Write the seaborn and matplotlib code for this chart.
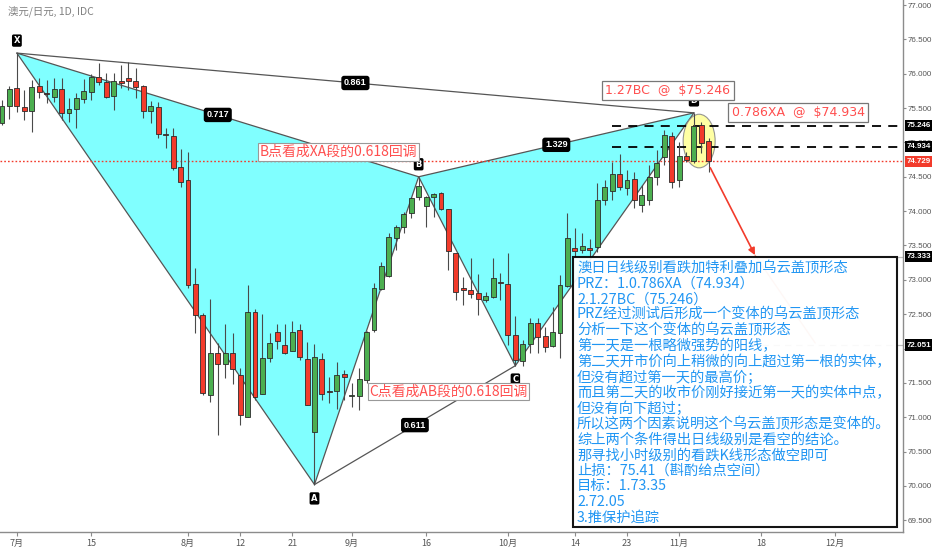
import numpy as np
import pandas as pd
import seaborn as sns
import matplotlib.pyplot as plt
from matplotlib.patches import Polygon, Ellipse, Rectangle

# daily OHLC, AUD/JPY, from 2019-06-27
opens = [75.28, 75.53, 75.79, 75.52, 75.46, 75.82, 75.72, 75.66, 75.78, 75.43,
         75.49, 75.63, 75.73, 75.95, 75.88, 75.68, 75.89, 75.94, 75.89, 75.82,
         75.46, 75.52, 75.12, 75.09, 74.64, 74.45, 72.94, 72.49, 71.32, 71.93,
         71.77, 71.93, 71.61, 71.00, 72.53, 71.34, 71.86, 72.24, 72.05, 71.96,
         72.27, 71.85, 70.79, 71.84, 71.38, 71.38, 71.63, 71.31, 71.31, 71.54,
         72.27, 72.87, 73.06, 73.61, 73.77, 73.97, 74.21, 74.07, 74.21, 74.26,
         74.03, 73.39, 72.88, 72.85, 72.81, 72.71, 72.75, 72.96, 72.94, 72.20,
         71.82, 72.07, 72.37, 72.18, 72.04, 72.23, 72.91, 73.46, 73.43, 73.47,
         73.48, 74.16, 74.29, 74.54, 74.34, 74.47, 74.09, 74.16, 74.50, 74.79,
         75.09, 74.45, 74.80, 74.73, 75.25, 75.02]
highs = [75.62, 75.82, 76.30, 75.76, 75.91, 75.94, 75.91, 75.94, 75.94, 75.65,
         75.72, 75.93, 76.00, 76.16, 76.01, 76.01, 76.13, 76.17, 76.08, 75.84,
         75.60, 75.59, 75.21, 75.21, 74.90, 74.86, 73.17, 72.52, 72.72, 72.08,
         72.36, 72.23, 71.72, 72.92, 72.57, 72.50, 72.23, 72.36, 72.36, 72.40,
         72.36, 72.09, 72.07, 71.94, 71.58, 71.80, 71.69, 71.50, 71.72, 72.26,
         72.95, 73.26, 73.68, 73.80, 73.99, 74.21, 74.50, 74.22, 74.26, 74.28,
         74.03, 73.39, 73.04, 73.32, 73.08, 72.82, 73.32, 73.10, 73.39, 72.47,
         72.12, 72.44, 72.44, 72.31, 72.60, 73.07, 73.97, 73.75, 73.68, 73.60,
         74.41, 74.45, 74.71, 74.83, 74.60, 74.57, 74.38, 74.67, 74.89, 75.18,
         75.15, 75.01, 74.86, 75.43, 75.30, 75.06]
lows = [75.25, 75.34, 75.44, 75.33, 75.15, 75.65, 75.57, 75.59, 75.33, 75.30,
        75.21, 75.57, 75.62, 75.84, 75.65, 75.47, 75.79, 75.76, 75.65, 75.36,
        75.28, 75.06, 74.92, 74.60, 74.35, 72.88, 72.23, 71.33, 71.22, 70.74,
        71.57, 71.48, 70.89, 71.00, 71.25, 71.34, 71.80, 72.00, 71.92, 71.96,
        71.83, 71.18, 70.02, 71.25, 71.20, 71.12, 71.25, 71.15, 71.10, 71.50,
        72.24, 72.85, 73.04, 73.43, 73.68, 73.90, 74.16, 73.77, 73.91, 74.02,
        73.14, 72.71, 72.63, 72.74, 72.49, 72.68, 72.74, 72.71, 72.05, 71.75,
        71.74, 71.94, 71.94, 71.95, 72.02, 71.86, 72.90, 73.33, 73.39, 73.30,
        73.40, 74.09, 74.16, 74.31, 74.23, 74.05, 73.99, 74.09, 74.38, 74.67,
        74.34, 74.35, 74.71, 74.70, 74.85, 74.57]
closes = [75.53, 75.78, 75.53, 75.46, 75.81, 75.73, 75.71, 75.78, 75.43, 75.49,
          75.65, 75.75, 75.95, 75.88, 75.66, 75.89, 75.86, 75.89, 75.81, 75.46,
          75.53, 75.12, 75.11, 74.63, 74.42, 72.92, 72.49, 71.35, 71.93, 71.77,
          71.94, 71.70, 71.03, 72.53, 71.29, 71.86, 72.08, 72.11, 71.93, 72.24,
          71.88, 71.18, 71.88, 71.34, 71.37, 71.61, 71.59, 71.32, 71.56, 72.24,
          72.88, 73.20, 73.62, 73.77, 73.96, 74.19, 74.37, 74.21, 74.25, 74.03,
          73.42, 72.82, 72.85, 72.79, 72.72, 72.76, 73.03, 72.95, 72.20, 71.83,
          72.07, 72.37, 72.17, 72.02, 72.24, 72.92, 73.61, 73.42, 73.49, 73.44,
          74.16, 74.35, 74.54, 74.35, 74.45, 74.16, 74.23, 74.50, 74.70, 75.11,
          74.42, 74.80, 74.74, 75.24, 74.99, 74.729]

tick_dates = ["2019-07-01", "2019-07-15", "2019-08-01", "2019-08-12", "2019-08-21",
              "2019-09-02", "2019-09-16", "2019-10-01", "2019-10-14", "2019-10-23",
              "2019-11-01", "2019-11-18", "2019-12-02"]
tick_labels = ["7月", "15", "8月", "12", "21", "9月", "16", "10月", "14", "23",
               "11月", "18", "12月"]

# harmonic pattern X A B C D (bar index, high/low)
pattern_names = ["X", "A", "B", "C", "D"]
pattern_bars = [2, 42, 56, 69, 93]
pattern_is_high = [True, False, True, False, True]
ratio_labels = ["0.717", "0.611", "1.329", "0.861"]  # XB, AC, BD, XD

prz_levels = [75.246, 74.934]
prz_texts = ["1.27BC  @  $75.246", "0.786XA  @  $74.934"]
target_levels = [73.333, 72.051]

notes = [
    "澳日日线级别看跌加特利叠加乌云盖顶形态",
    "PRZ：1.0.786XA（74.934）",
    "2.1.27BC（75.246）",
    "PRZ经过测试后形成一个变体的乌云盖顶形态",
    "分析一下这个变体的乌云盖顶形态",
    "第一天是一根略微强势的阳线，",
    "第二天开市价向上稍微的向上超过第一根的实体，",
    "但没有超过第一天的最高价；",
    "而且第二天的收市价刚好接近第一天的实体中点，",
    "但没有向下超过；",
    "所以这两个因素说明这个乌云盖顶形态是变体的。",
    "综上两个条件得出日线级别是看空的结论。",
    "那寻找小时级别的看跌K线形态做空即可",
    "止损：75.41（斟酌给点空间）",
    "目标：1.73.35",
    "2.72.05",
    "3.推保护追踪",
]

df = pd.DataFrame({"i": np.arange(len(opens)), "open": opens, "high": highs,
                   "low": lows, "close": closes})
df["bottom"] = df[["open", "close"]].min(axis=1)
df["body"] = (df["close"] - df["open"]).abs().clip(lower=0.012)
df["up"] = df["close"] >= df["open"]

sns.set_theme(style="white")
plt.rcParams["font.family"] = ["Noto Sans CJK SC", "DejaVu Sans"]

fig = plt.figure(figsize=(9.32, 5.5), dpi=100, facecolor="white")
ax = fig.add_axes([0, 18 / 550, 903 / 932, 532 / 550])

RED = "#f23b2b"
GREEN = "#4caf50"
LABEL_RED = "#ff4f4f"
BLUE = "#2196f3"
NUM_FONT = ["Liberation Sans", "DejaVu Sans"]

# pattern geometry
pts = []
for b, hi in zip(pattern_bars, pattern_is_high):
    pts.append((b, highs[b] if hi else lows[b]))
X, A, B, C, D = pts

ax.add_patch(Polygon([X, A, B], closed=True, fc="#80ffff", ec="none", zorder=1))
ax.add_patch(Polygon([B, C, D], closed=True, fc="#80ffff", ec="none", zorder=1))
for p, q in [(X, A), (A, B), (B, C), (C, D), (X, B), (B, D), (X, D), (A, C)]:
    ax.plot([p[0], q[0]], [p[1], q[1]], color="#555555", lw=0.9, zorder=2)

for (p, q), lab in zip([(X, B), (A, C), (B, D), (X, D)], ratio_labels):
    ax.text((p[0] + q[0]) / 2, (p[1] + q[1]) / 2, lab, color="white", fontsize=6.5,
            fontweight="bold", ha="center", va="center", zorder=6, family=NUM_FONT,
            bbox=dict(boxstyle="round,pad=0.3,rounding_size=0.3", fc="black", ec="none"))

for (x, y), name, hi in zip(pts, pattern_names, pattern_is_high):
    ax.annotate(name, (x, y), xytext=(0, 9 if hi else -10), textcoords="offset points",
                color="white", fontsize=6, fontweight="bold", ha="center", va="center",
                zorder=6, family=["DejaVu Sans"],
                bbox=dict(boxstyle="round,pad=0.2,rounding_size=0.2", fc="black", ec="none"))

# highlight of the dark cloud cover
ax.add_patch(Ellipse((93.7, 75.02), 4.3, 0.78, fc="#ffff99", ec="#8a8a8a", lw=0.8,
                     alpha=0.9, zorder=2.2))

# candles
ax.vlines(df["i"], df["low"], df["high"], color="#4a4a4a", lw=0.8, zorder=3)
for is_up, color in [(True, GREEN), (False, RED)]:
    sub = df[df["up"] == is_up]
    sns.barplot(x=sub["i"].values, y=sub["body"].values, bottom=sub["bottom"].values,
                native_scale=True, orient="x", width=0.66, color=color, saturation=1,
                edgecolor="#2b2b2b", linewidth=0.6, errorbar=None, zorder=4, ax=ax)

xmin, xmax = -0.27, 121.1
ymin, ymax = 69.329, 77.073

# levels
ax.axhline(closes[-1], color=RED, lw=1.0, ls=(0, (1.2, 1.5)), zorder=2.5)
for lv in prz_levels:
    ax.hlines(lv, 82, xmax, color="black", lw=1.3, ls=(0, (5, 4)), zorder=2.5)
for lv in target_levels:
    ax.hlines(lv, 78, xmax, color="#bdbdbd", lw=0.9, ls=(0, (5, 4)), zorder=2.5)

ax.text(89.5, 75.76, prz_texts[0], color=LABEL_RED, fontsize=9.0, ha="center", va="center",
        zorder=7, family=["DejaVu Sans"],
        bbox=dict(boxstyle="square,pad=0.25", fc="white", ec="#777777", lw=0.9))
ax.text(107.0, 75.43, prz_texts[1], color=LABEL_RED, fontsize=9.0, ha="center", va="center",
        zorder=7, family=["DejaVu Sans"],
        bbox=dict(boxstyle="square,pad=0.25", fc="white", ec="#777777", lw=0.9))
ax.text(45.2, 74.86, "B点看成XA段的0.618回调", color=LABEL_RED, fontsize=10,
        ha="center", va="center", zorder=7,
        bbox=dict(boxstyle="square,pad=0.12", fc="white", ec="#999999", lw=0.8))
ax.text(60.0, 71.37, "C点看成AB段的0.618回调", color=LABEL_RED, fontsize=10,
        ha="center", va="center", zorder=7,
        bbox=dict(boxstyle="square,pad=0.12", fc="white", ec="#999999", lw=0.8))

# projected move
ax.annotate("", xy=(101.2, 73.36), xytext=(95.2, 74.63), zorder=6,
            arrowprops=dict(arrowstyle="-|>", color=RED, lw=1.2, mutation_scale=10,
                            shrinkA=0, shrinkB=0))
ax.plot([101.2, 109.3], [73.36, 72.08], color="#f4a08a", lw=0.9, zorder=2.5)

# axes styling
ax.set_xlim(xmin, xmax)
ax.set_ylim(ymin, ymax)
ax.set_xlabel("")
ax.set_ylabel("")
ax.set_facecolor("white")
axis_dates = pd.bdate_range("2019-06-27", "2019-12-31")
ax.set_xticks(axis_dates.get_indexer(pd.to_datetime(tick_dates)))
ax.set_xticklabels(tick_labels)
ax.set_yticks(np.arange(69.5, 77.01, 0.5))
ax.yaxis.set_major_formatter(plt.FormatStrFormatter("%.3f"))
ax.yaxis.tick_right()
for lab in ax.get_yticklabels():
    lab.set_family(NUM_FONT)
for s in ["left", "top"]:
    ax.spines[s].set_visible(False)
for s in ["right", "bottom"]:
    ax.spines[s].set_color("#8c8c8c")
    ax.spines[s].set_linewidth(1.0)
ax.tick_params(axis="y", right=True, left=False, length=2.5, width=0.8, color="#8c8c8c",
               labelsize=5.8, labelcolor="#555555", pad=1)
ax.tick_params(axis="x", bottom=True, length=3, width=0.8, color="#8c8c8c",
               labelsize=6.5, labelcolor="#555555", pad=2)

# price tags on the scale
ytr = ax.get_yaxis_transform()
for lv in prz_levels + target_levels:
    ax.text(1.004, lv, f"{lv:.3f}", transform=ytr, color="white", fontsize=5.8,
            fontweight="bold", ha="left", va="center", clip_on=False, zorder=8,
            family=NUM_FONT,
            bbox=dict(boxstyle="square,pad=0.25", fc="black", ec="none"))
ax.text(1.004, closes[-1], f"{closes[-1]:.3f}", transform=ytr, color="white", fontsize=5.8,
        fontweight="bold", ha="left", va="center", clip_on=False, zorder=8,
        family=NUM_FONT,
        bbox=dict(boxstyle="square,pad=0.25", fc=RED, ec="none"))

fig.text(8 / 932, 1 - 12 / 550, "澳元/日元, 1D, IDC", color="#808080", fontsize=7.5,
         ha="left", va="center")

# commentary box
fig.add_artist(Rectangle((573 / 932, 1 - 527 / 550), 324 / 932, 270 / 550,
                         transform=fig.transFigure, fc="white", ec="black", lw=1.5,
                         alpha=0.92, zorder=5))
for k, line in enumerate(notes):
    fig.text(577 / 932, 1 - (268 + k * 15.6) / 550, line, color=BLUE, fontsize=10.3,
             ha="left", va="center", zorder=6)

fig.savefig("out.png", dpi=100, facecolor="white")
